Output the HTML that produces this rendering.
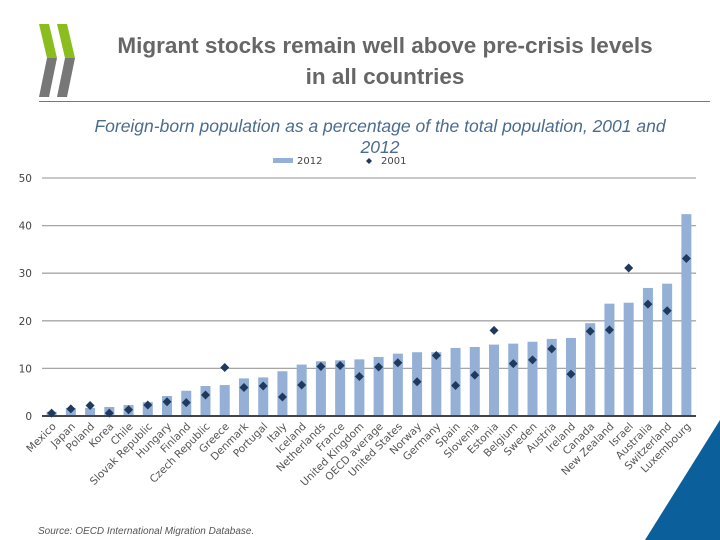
<!DOCTYPE html>
<html><head><meta charset="utf-8"><style>
body{margin:0;background:#fff;width:720px;height:540px;overflow:hidden;position:relative;font-family:"Liberation Sans",sans-serif}
.title{position:absolute;left:60px;width:650px;top:30px;text-align:center;font-size:22.5px;font-weight:bold;color:#666;line-height:31px}
.sub{position:absolute;left:40px;width:680px;top:116px;text-align:center;font-style:italic;font-size:17.5px;color:#4a6c8e;line-height:21px}
.src{position:absolute;left:38px;top:526px;font-style:italic;font-size:10px;color:#555}
</style></head><body>
<svg width="90" height="100" style="position:absolute;left:0;top:0">
<polygon points="39,24 49,24 57,58 47,58" fill="#8cbd1e"/><polygon points="47,58 57,58 49,97 39,97" fill="#777"/>
<polygon points="57,24 67,24 75,58 65,58" fill="#8cbd1e"/><polygon points="65,58 75,58 67,97 57,97" fill="#777"/>
</svg>
<div class="title">Migrant stocks remain well above pre-crisis levels<br>in all countries</div>
<div style="position:absolute;left:39px;top:101px;width:671px;height:1px;background:#777"></div>
<div class="sub">Foreign-born population as a percentage of the total population, 2001 and<br>2012</div>
<svg id="chart" width="720" height="540" style="position:absolute;left:0;top:0"></svg>
<svg width="720" height="540" style="position:absolute;left:0;top:0;pointer-events:none"><polygon points="720,420 720,540 645,540" fill="#0b5f9a"/></svg>
<div class="src">Source: OECD International Migration Database.</div>
<script>
const categories=["Mexico","Japan","Poland","Korea","Chile","Slovak Republic","Hungary","Finland","Czech Republic","Greece","Denmark","Portugal","Italy","Iceland","Netherlands","France","United Kingdom","OECD average","United States","Norway","Germany","Spain","Slovenia","Estonia","Belgium","Sweden","Austria","Ireland","Canada","New Zealand","Israel","Australia","Switzerland","Luxembourg"];
const values2012=[0.9,1.7,1.7,1.9,2.3,2.9,4.2,5.3,6.3,6.5,7.9,8.1,9.4,10.8,11.5,11.7,11.9,12.4,13.1,13.4,13.4,14.3,14.5,15.0,15.2,15.6,16.2,16.4,19.5,23.6,23.8,26.9,27.8,42.4];
const values2001=[0.6,1.5,2.2,0.6,1.3,2.3,3.0,2.8,4.4,10.2,6.0,6.3,4.0,6.5,10.4,10.6,8.3,10.3,11.2,7.2,12.7,6.4,8.6,18.0,11.0,11.8,14.1,8.8,17.8,18.1,31.1,23.5,22.1,33.1];
const yTicks=[0,10,20,30,40,50];
const NS="http://www.w3.org/2000/svg",svg=document.getElementById("chart");
const x0=42,x1=696,yb=416,yt=178;
const FONT="DejaVu Sans, Liberation Sans, sans-serif";
const y=v=>yb-(v/50)*(yb-yt);
const step=(x1-x0)/categories.length;
const xc=i=>x0+step*(i+0.5);
function mk(t,a){const e=document.createElementNS(NS,t);for(const k in a)e.setAttribute(k,a[k]);svg.appendChild(e);return e;}
yTicks.forEach(t=>{
 if(t>0){const g=mk("line",{x1:x0,x2:x1,y1:y(t),y2:y(t),stroke:"#a6a6a6","stroke-width":1.3});
 
 }
 const l=mk("text",{x:32,y:y(t)+4,"text-anchor":"end","font-size":10.5,fill:"#444","font-family":FONT});l.textContent=t;
 
 
});
categories.forEach((c,i)=>{
 const b=mk("rect",{x:xc(i)-5,y:y(values2012[i]),width:10,height:yb-y(values2012[i]),fill:"#94b0d6"});
 
 
});
const ax=mk("line",{x1:x0,x2:x1,y1:yb,y2:yb,stroke:"#444","stroke-width":2});


categories.forEach((c,i)=>{
 const cx=xc(i),cy=y(values2001[i]);
 const d=mk("polygon",{points:`${cx},${cy-4.5} ${cx+4.5},${cy} ${cx},${cy+4.5} ${cx-4.5},${cy}`,fill:"#1f3a5f"});
 
 
 const t=mk("text",{x:cx+5,y:427,"text-anchor":"end","font-size":10.5,fill:"#555","font-family":FONT,transform:`rotate(-45 ${cx+5} 427)`});
 t.textContent=c;
 
 
});
const lr=mk("rect",{x:273,y:158,width:20,height:5,fill:"#94b0d6"});


const lt=mk("text",{x:297,y:164,"font-size":10,fill:"#444","font-family":FONT});lt.textContent="2012";


const ld=mk("polygon",{points:"369,158 372,161 369,164 366,161",fill:"#1f3a5f"});


const lt2=mk("text",{x:381,y:164,"font-size":10,fill:"#444","font-family":FONT});lt2.textContent="2001";


</script>
</body></html>
